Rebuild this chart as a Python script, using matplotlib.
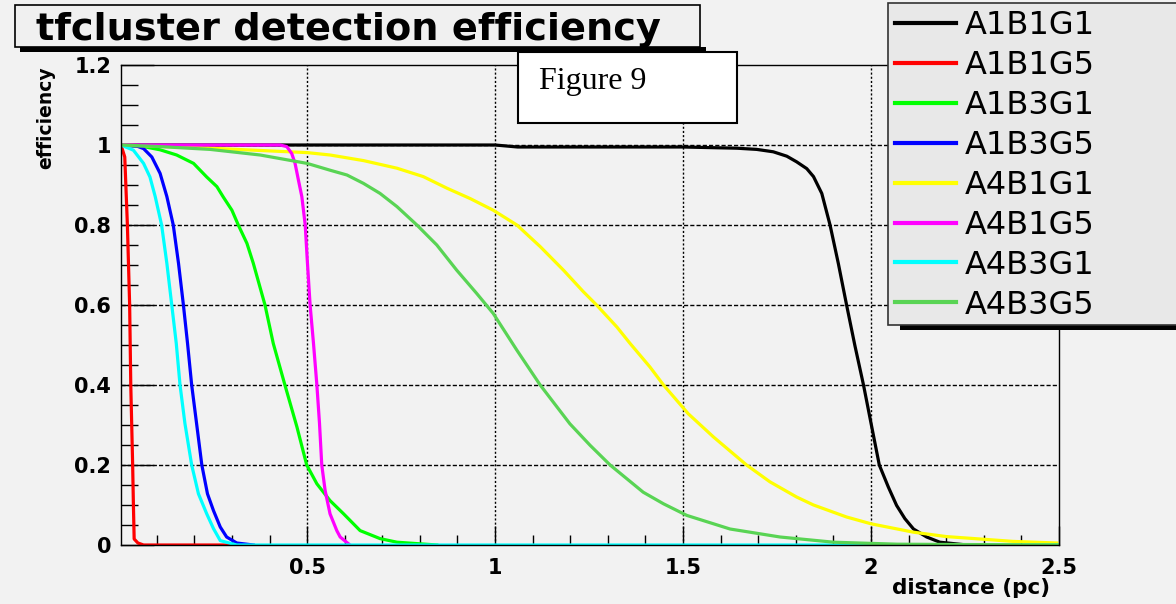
import matplotlib
matplotlib.use("Agg")
import matplotlib.pyplot as plt
from matplotlib.patches import Rectangle
from matplotlib.ticker import MultipleLocator

# efficiency vs distance, one curve per configuration
labels = ["A1B1G1", "A1B1G5", "A1B3G1", "A1B3G5", "A4B1G1", "A4B1G5", "A4B3G1", "A4B3G5"]
colors = ["#000000", "#ff0000", "#00ff00", "#0000ff", "#ffff00", "#ff00ff", "#00ffff", "#59d454"]

a1b1g1_x = [0.005, 0.5, 1.0, 1.06, 1.5, 1.643, 1.696, 1.74, 1.776, 1.802, 1.829, 1.847, 1.869, 1.891, 1.913,
            1.935, 1.957, 1.98, 2.002, 2.022, 2.046, 2.068, 2.09, 2.113, 2.148, 2.183, 2.255]
a1b1g1_y = [1.0, 1.0, 1.0, 0.995, 0.995, 0.992, 0.989, 0.983, 0.972, 0.958, 0.941, 0.921, 0.879, 0.8, 0.704,
            0.6, 0.499, 0.4, 0.295, 0.2, 0.145, 0.099, 0.066, 0.04, 0.02, 0.007, 0.0]

a1b1g5_x = [0.005, 0.015, 0.022, 0.028, 0.031, 0.036, 0.038, 0.04, 0.05, 0.065, 0.32]
a1b1g5_y = [1.0, 0.97, 0.8, 0.6, 0.4, 0.2, 0.1, 0.015, 0.005, 0.0, 0.0]

a1b3g1_x = [0.005, 0.065, 0.109, 0.153, 0.198, 0.233, 0.26, 0.277, 0.3, 0.317, 0.34, 0.357, 0.388, 0.41,
            0.441, 0.473, 0.499, 0.526, 0.561, 0.597, 0.641, 0.694, 0.739, 0.845]
a1b3g1_y = [1.0, 0.996, 0.988, 0.975, 0.954, 0.92, 0.896, 0.87, 0.837, 0.8, 0.754, 0.704, 0.6, 0.504,
            0.4, 0.295, 0.2, 0.153, 0.111, 0.078, 0.036, 0.016, 0.007, 0.0]

a1b3g5_x = [0.005, 0.048, 0.065, 0.087, 0.109, 0.127, 0.144, 0.158, 0.171, 0.182, 0.193, 0.206, 0.22,
            0.235, 0.251, 0.269, 0.286, 0.313, 0.357]
a1b3g5_y = [1.0, 0.997, 0.991, 0.97, 0.929, 0.871, 0.8, 0.704, 0.6, 0.504, 0.4, 0.304, 0.2,
            0.128, 0.086, 0.045, 0.02, 0.005, 0.0]

a4b1g1_x = [0.005, 0.242, 0.5, 0.561, 0.65, 0.739, 0.809, 0.872, 0.934, 0.995, 1.058, 1.12, 1.182, 1.235,
            1.27, 1.324, 1.359, 1.412, 1.448, 1.514, 1.581, 1.669, 1.731, 1.802, 1.847, 1.935, 2.0,
            2.113, 2.201, 2.29, 2.378, 2.494]
a4b1g1_y = [1.0, 0.992, 0.981, 0.975, 0.961, 0.942, 0.921, 0.892, 0.866, 0.837, 0.8, 0.746, 0.687, 0.633,
            0.6, 0.545, 0.504, 0.445, 0.4, 0.328, 0.27, 0.2, 0.158, 0.12, 0.1, 0.07, 0.053,
            0.032, 0.021, 0.015, 0.009, 0.005]

a4b1g5_x = [0.005, 0.428, 0.446, 0.459, 0.468, 0.477, 0.486, 0.495, 0.501, 0.508, 0.517, 0.526, 0.533,
            0.539, 0.548, 0.561, 0.579, 0.588, 0.614]
a4b1g5_y = [1.0, 1.0, 0.996, 0.979, 0.954, 0.912, 0.871, 0.8, 0.704, 0.6, 0.504, 0.4, 0.304,
            0.2, 0.136, 0.078, 0.036, 0.02, 0.0]

a4b3g1_x = [0.005, 0.038, 0.065, 0.082, 0.096, 0.113, 0.127, 0.14, 0.152, 0.162, 0.175, 0.193, 0.211,
            0.233, 0.251, 0.269, 0.313, 2.5]
a4b3g1_y = [1.0, 0.987, 0.954, 0.92, 0.871, 0.8, 0.704, 0.6, 0.504, 0.4, 0.304, 0.2, 0.128,
            0.078, 0.041, 0.011, 0.0, 0.0]

a4b3g5_x = [0.005, 0.109, 0.242, 0.375, 0.5, 0.561, 0.606, 0.65, 0.694, 0.739, 0.792, 0.845, 0.898, 0.951,
            0.995, 1.058, 1.12, 1.199, 1.253, 1.306, 1.394, 1.448, 1.51, 1.625, 1.758, 1.9, 2.07, 2.5]
a4b3g5_y = [1.0, 0.996, 0.989, 0.975, 0.954, 0.937, 0.925, 0.904, 0.879, 0.846, 0.8, 0.75, 0.687, 0.629,
            0.579, 0.487, 0.4, 0.303, 0.249, 0.2, 0.132, 0.103, 0.074, 0.04, 0.02, 0.007, 0.002, 0.0]

curves = [(a1b1g1_x, a1b1g1_y), (a1b1g5_x, a1b1g5_y), (a1b3g1_x, a1b3g1_y), (a1b3g5_x, a1b3g5_y),
          (a4b1g1_x, a4b1g1_y), (a4b1g5_x, a4b1g5_y), (a4b3g1_x, a4b3g1_y), (a4b3g5_x, a4b3g5_y)]

W, H = 1176, 604
bg = "#f2f2f2"


def fx(px):
    return px / W


def fy(py):
    return 1 - py / H


fig = plt.figure(figsize=(W / 100, H / 100), dpi=100, facecolor=bg)
ax = fig.add_axes([fx(121), fy(545), fx(1059) - fx(121), fy(65) - fy(545)])
ax.set_facecolor(bg)

handles = []
for (xs, ys), lab, col in zip(curves, labels, colors):
    ln, = ax.plot(xs, ys, color=col, lw=2.3, label=lab)
    handles.append(ln)

ax.set_xlim(0.005, 2.5)
ax.set_ylim(0, 1.2)
ax.set_xticks([0.5, 1, 1.5, 2, 2.5])
ax.set_xticklabels(["0.5", "1", "1.5", "2", "2.5"])
ax.set_yticks([0, 0.2, 0.4, 0.6, 0.8, 1.0, 1.2])
ax.set_yticklabels(["0", "0.2", "0.4", "0.6", "0.8", "1", "1.2"])
ax.xaxis.set_minor_locator(MultipleLocator(0.1))
ax.yaxis.set_minor_locator(MultipleLocator(0.05))

tick_font = {"family": "DejaVu Sans", "weight": "bold", "size": 15}
for t in ax.get_xticklabels() + ax.get_yticklabels():
    t.set_fontproperties(tick_font)
ax.tick_params(axis="x", which="major", direction="in", length=14, width=1, pad=9)
ax.tick_params(axis="x", which="minor", direction="in", length=7, width=1)
ax.tick_params(axis="y", which="major", direction="in", length=24, width=1, pad=7)
ax.tick_params(axis="y", which="minor", direction="in", length=12, width=1)

# grid lines
for gx in [0.5, 1, 1.5, 2]:
    ax.axvline(gx, color="black", lw=1, ls=(0, (1.5, 1.5)), zorder=0.5)
for gy in [0.2, 0.4, 0.6, 0.8, 1.0]:
    ax.axhline(gy, color="black", lw=1, ls=(0, (3, 1.5)), zorder=0.5)

for sp in ax.spines.values():
    sp.set_linewidth(1.0)

fig.text(fx(1050), fy(588), "distance (pc)", ha="right", va="center",
         fontsize=15.5, fontweight="bold", family="DejaVu Sans")
fig.text(fx(46), fy(66), "efficiency", ha="center", va="top", rotation=90,
         fontsize=13.5, fontweight="bold", family="DejaVu Sans")

# title box with shadow
fig.patches.append(Rectangle((fx(20), fy(52)), fx(686), fy(5) - fy(10), transform=fig.transFigure,
                             facecolor="black", edgecolor="none", zorder=2))
fig.patches.append(Rectangle((fx(15), fy(47)), fx(685), fy(5) - fy(47), transform=fig.transFigure,
                             facecolor="#f0f0f0", edgecolor="black", lw=1.2, zorder=2.1))
fig.text(fx(348), fy(40), "tfcluster detection efficiency", ha="center", va="baseline",
         fontsize=27.5, fontweight="bold", family="DejaVu Sans", zorder=2.2)

# label box
fig.patches.append(Rectangle((fx(518), fy(123)), fx(219), fy(52) - fy(123), transform=fig.transFigure,
                             facecolor="white", edgecolor="black", lw=1.5, zorder=2.3))
fig.text(fx(539), fy(82), "Figure 9", ha="left", va="center", fontsize=23,
         family="Liberation Serif", zorder=2.4)

# legend panel with shadow
fig.patches.append(Rectangle((fx(900), fy(330)), fx(300), fy(8) - fy(330), transform=fig.transFigure,
                             facecolor="black", edgecolor="none", zorder=3))
fig.patches.append(Rectangle((fx(888), fy(325)), fx(300), fy(3) - fy(325), transform=fig.transFigure,
                             facecolor="#e8e8e8", edgecolor="#333333", lw=1.2, zorder=3.1))
leg = fig.legend(handles=handles, labels=labels, loc="upper left", bbox_to_anchor=(fx(895), fy(10)),
                 frameon=False, borderpad=0, borderaxespad=0, labelspacing=0.28,
                 handlelength=1.9, handletextpad=0.28, prop={"family": "DejaVu Sans", "size": 23})
leg.set_zorder(4)
for lh in leg.get_lines():
    lh.set_linewidth(3)

fig.savefig("out.png", dpi=100, facecolor=bg)
